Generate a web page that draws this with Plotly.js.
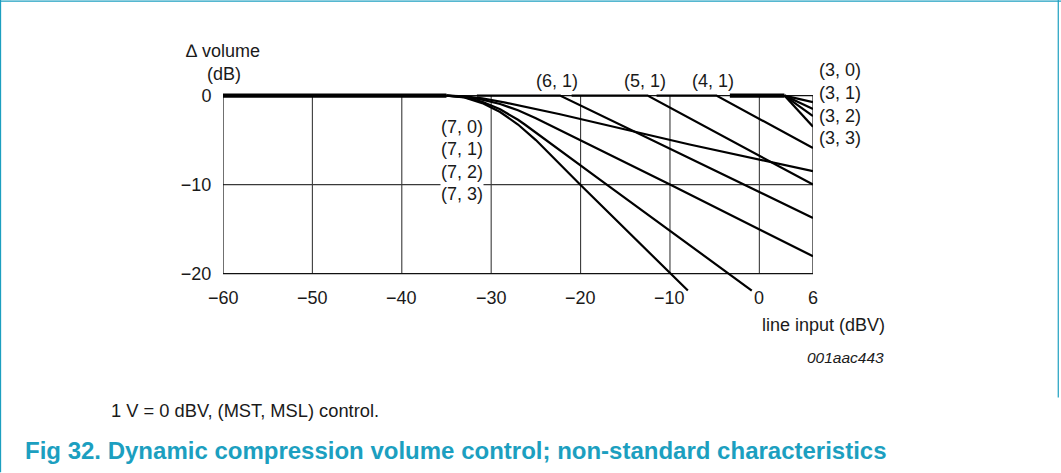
<!DOCTYPE html>
<html>
<head>
<meta charset="utf-8">
<script src="https://cdn.plot.ly/plotly-3.0.1.min.js"></script>
<style>
  html, body { margin: 0; padding: 0; background: #fff; }
  #chart { width: 1061px; height: 473px; }
</style>
</head>
<body>
<div id="chart"></div>
<script>
// ---------- data ----------
const xTickVals = [-60, -50, -40, -30, -20, -10, 0, 6];
const xTickText = ['\u221260', '\u221250', '\u221240', '\u221230', '\u221220', '\u221210', '0', '6'];
const yTickVals = [0, -10, -20];
const yTickText = ['0', '\u221210', '\u221220'];
const gridX = [-50, -40, -30, -20, -10, 0];
const gridY = [-10];

// shared flat part of the (7, x) curves (overlapping -> thick)
const flat7X = [-60, -35];
const flat7Y = [0, 0];
// (7, x) curves
const c70X = [-35, -33, -31, -29, -28.4, -22.3, -7.8, 6];
const c70Y = [0, -0.08, -0.3, -0.66, -0.8, -2.1, -5.5, -8.5];
const c71X = [-35, -33, -31, -29, -27, -25, -10, 6];
const c71Y = [0, -0.12, -0.45, -0.95, -1.65, -2.55, -10, -18.05];
const c72X = [-35, -33, -31, -29, -27, -26.2, -17.8, -7.8, -0.85];
const c72Y = [0, -0.18, -0.7, -1.55, -2.72, -3.28, -9.47, -16.8, -21.9];
const c73X = [-35, -33, -31, -29, -27, -25, -20, -10, -8];
const c73Y = [0, -0.22, -0.85, -1.85, -3.25, -5.0, -10.05, -19.9, -21.9];
// (n, 1) curves
const c61X = [-31.6, -22.3, 6];
const c61Y = [0, 0, -13.75];
const c51X = [-21, -12.5, 6];
const c51Y = [0, 0, -10.0];
const c41X = [-11.5, -4.8, 6];
const c41Y = [0, 0, -5.9];
// (3, x) curves, shared flat part overlapping -> thick
const flat3X = [-3.3, 2.8];
const flat3Y = [0, 0];
const c30X = [2.8, 6]; const c30Y = [0, -0.75];
const c31X = [2.8, 6]; const c31Y = [0, -1.5];
const c32X = [2.8, 6]; const c32Y = [0, -2.3];
const c33X = [2.8, 6]; const c33Y = [0, -3.5];

// labels
const topLabels = ['(6, 1)', '(5, 1)', '(4, 1)'];
const topLabelX = [c61X[1], c51X[1], c41X[1]];
const rightLabels = ['(3, 0)', '(3, 1)', '(3, 2)', '(3, 3)'];
const leftLabels = ['(7, 0)', '(7, 1)', '(7, 2)', '(7, 3)'];

// ---------- layout geometry (pixels) ----------
const L = 223.3, T = 92.1, W = 589.6, H = 203.3;
const FIG_W = 1061, FIG_H = 473;
const fx = px => (px - L) / W;
const fy = py => (T + H - py) / H;

const FONT = 'Liberation Sans, Arial, Helvetica, sans-serif';
const TXT = '#1a1a1a';
const TEAL = '#1c9fc0';

function line(x, y, w) {
  return { x: x, y: y, type: 'scatter', mode: 'lines',
           line: { color: '#000', width: w || 2.2 },
           hoverinfo: 'skip', showlegend: false };
}

const traces = [
  line(flat7X, flat7Y, 4.2),
  line(c70X, c70Y), line(c71X, c71Y), line(c72X, c72Y), line(c73X, c73Y),
  line(c61X, c61Y), line(c51X, c51Y), line(c41X, c41Y),
  line(flat3X, flat3Y, 4.2),
  line(c30X, c30Y), line(c31X, c31Y), line(c32X, c32Y), line(c33X, c33Y)
];

const shapes = [];
// grid
gridX.forEach(v => shapes.push({ type: 'line', xref: 'x', yref: 'y', x0: v, x1: v, y0: -20, y1: 0,
  line: { color: '#3a3a3a', width: 1.1 }, layer: 'below' }));
gridY.forEach(v => shapes.push({ type: 'line', xref: 'x', yref: 'y', x0: -60, x1: 6, y0: v, y1: v,
  line: { color: '#3a3a3a', width: 1.1 }, layer: 'below' }));
// frame
shapes.push({ type: 'rect', xref: 'x', yref: 'y', x0: -60, x1: 6, y0: -20, y1: 0,
  line: { color: '#111', width: 1.2 }, layer: 'below' });
// page border (teal)
shapes.push({ type: 'line', xref: 'paper', yref: 'paper', x0: fx(1), x1: fx(1), y0: fy(0), y1: fy(473),
  line: { color: TEAL, width: 1.2 } });
shapes.push({ type: 'line', xref: 'paper', yref: 'paper', x0: fx(0), x1: fx(1061), y0: fy(1), y1: fy(1),
  line: { color: TEAL, width: 1.2 } });
shapes.push({ type: 'line', xref: 'paper', yref: 'paper', x0: fx(1058), x1: fx(1058), y0: fy(0), y1: fy(398),
  line: { color: TEAL, width: 1.2 } });

const annotations = [];
const baseFont = { family: FONT, size: 18, color: TXT };
// x tick labels
xTickVals.forEach((v, i) => annotations.push({ x: v, y: -20, xref: 'x', yref: 'y', text: xTickText[i],
  showarrow: false, xanchor: 'center', yanchor: 'middle', yshift: -24, font: baseFont }));
// top labels
topLabels.forEach((t, i) => annotations.push({ x: topLabelX[i], y: 0, xref: 'x', yref: 'y', text: t,
  showarrow: false, xanchor: 'center', yanchor: 'middle', yshift: 15, xshift: -3, font: baseFont }));
// right labels (3, x)
const rightY = [70, 93.3, 116.5, 138.3];
rightLabels.forEach((t, i) => annotations.push({ x: fx(817), y: fy(rightY[i]), xref: 'paper', yref: 'paper',
  text: t, showarrow: false, xanchor: 'left', yanchor: 'middle', font: baseFont }));
// left labels (7, x)
const leftY = [126.7, 149.3, 172.3, 194];
leftLabels.forEach((t, i) => annotations.push({ x: fx(484), y: fy(leftY[i]), xref: 'paper', yref: 'paper',
  text: t, showarrow: false, xanchor: 'right', yanchor: 'middle', bgcolor: '#fff', borderpad: 0, font: baseFont }));
// y-axis title
annotations.push({ x: fx(184), y: fy(51), xref: 'paper', yref: 'paper', text: '\u2206 volume',
  showarrow: false, xanchor: 'left', yanchor: 'middle', font: baseFont });
annotations.push({ x: fx(224), y: fy(74), xref: 'paper', yref: 'paper', text: '(dB)',
  showarrow: false, xanchor: 'center', yanchor: 'middle', font: baseFont });
// x-axis title
annotations.push({ x: fx(887), y: fy(325), xref: 'paper', yref: 'paper', text: 'line input (dBV)',
  showarrow: false, xanchor: 'right', yanchor: 'middle', font: baseFont });
// figure id
annotations.push({ x: fx(886), y: fy(358), xref: 'paper', yref: 'paper', text: '<i>001aac443</i>',
  showarrow: false, xanchor: 'right', yanchor: 'middle', font: { family: FONT, size: 15.5, color: TXT } });
// note
annotations.push({ x: fx(109), y: fy(411), xref: 'paper', yref: 'paper', text: '1 V = 0 dBV, (MST, MSL) control.',
  showarrow: false, xanchor: 'left', yanchor: 'middle', font: { family: FONT, size: 18.3, color: TXT } });
// caption
annotations.push({ x: fx(23), y: fy(451), xref: 'paper', yref: 'paper',
  text: '<b>Fig 32. Dynamic compression volume control; non-standard characteristics</b>',
  showarrow: false, xanchor: 'left', yanchor: 'middle', font: { family: FONT, size: 24, color: TEAL } });

const layout = {
  width: FIG_W, height: FIG_H, autosize: false,
  margin: { l: L, r: FIG_W - L - W, t: T, b: FIG_H - T - H, pad: 0 },
  paper_bgcolor: '#fff', plot_bgcolor: 'rgba(0,0,0,0)',
  showlegend: false,
  xaxis: { range: [-60, 6], showgrid: false, zeroline: false, showline: false,
           showticklabels: false, ticks: '', fixedrange: true },
  yaxis: { range: [-22.4, 0.4], showgrid: false, zeroline: false, showline: false,
           tickmode: 'array', tickvals: yTickVals, ticktext: yTickText,
           ticks: 'outside', ticklen: 7, tickcolor: 'rgba(0,0,0,0)',
           tickfont: baseFont, fixedrange: true },
  shapes: shapes,
  annotations: annotations
};

Plotly.newPlot('chart', traces, layout, { staticPlot: true, displayModeBar: false });
</script>
</body>
</html>
